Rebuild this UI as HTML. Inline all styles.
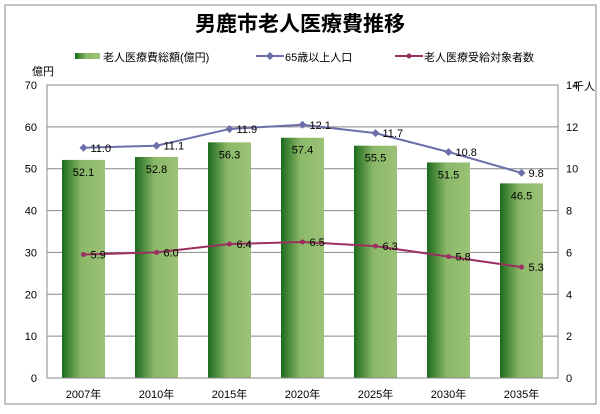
<!DOCTYPE html>
<html><head><meta charset="utf-8"><style>
body{margin:0;background:#fff;}
svg text{font-family:"Liberation Sans","Noto Sans CJK JP",sans-serif;}
</style></head><body>
<svg width="600" height="409" xmlns="http://www.w3.org/2000/svg">
<defs><linearGradient id="bg" x1="0" x2="1" y1="0" y2="0">
<stop offset="0" stop-color="#1c6a1c"/><stop offset="0.45" stop-color="#8ab868"/><stop offset="1" stop-color="#9cc277"/></linearGradient></defs>
<rect x="5" y="5" width="591" height="399" fill="#fff" stroke="#888"/>
<text x="300" y="31" text-anchor="middle" font-size="21" font-weight="bold">男鹿市老人医療費推移</text>
<g font-size="11">
<rect x="75" y="53" width="25" height="6" fill="url(#bg)"/>
<text x="103" y="61">老人医療費総額(億円)</text>
<line x1="256" y1="56" x2="284" y2="56" stroke="#6b6ea8" stroke-width="2"/><path d="M270 52 l4 4 l-4 4 l-4 -4z" fill="#6b6ea8"/>
<text x="285" y="61">65歳以上人口</text>
<line x1="395" y1="56" x2="423" y2="56" stroke="#9b3060" stroke-width="2"/><circle cx="409" cy="56" r="2.5" fill="#9b3060"/>
<text x="424" y="61">老人医療受給対象者数</text>
</g>
<text x="32" y="75" font-size="11">億円</text>
<text x="573" y="90" font-size="11">千人</text>
<g id="grid"></g><g id="bars"></g><g id="lines"></g><g id="labels"></g>
<rect x="47" y="85" width="511" height="293" fill="none" stroke="#888"/>
</svg>
<script>
const categories=["2007年","2010年","2015年","2020年","2025年","2030年","2035年"];
const costValues=[52.1,52.8,56.3,57.4,55.5,51.5,46.5];
const popValues=[11.0,11.1,11.9,12.1,11.7,10.8,9.8];
const recipValues=[5.9,6.0,6.4,6.5,6.3,5.8,5.3];
const leftTicks=[0,10,20,30,40,50,60,70];
const rightTicks=[0,2,4,6,8,10,12,14];
const NS="http://www.w3.org/2000/svg";
const L=47,R=558,T=85,B=378;
const yL=v=>B-(v/70)*(B-T), yR=v=>B-(v/14)*(B-T);
const slot=(R-L)/categories.length, xc=i=>L+slot*(i+0.5);
function mk(p,tag,a,txt){const e=document.createElementNS(NS,tag);for(const k in a)e.setAttribute(k,a[k]);if(txt!=null)e.textContent=txt;document.getElementById(p).appendChild(e);return e;}
leftTicks.forEach((t,i)=>{
 if(t>0){const g=mk('grid','line',{x1:L,x2:R,y1:yL(t),y2:yL(t),stroke:'#888'});
 
 }
 const a=mk('labels','text',{x:L-10,y:yL(t)+4,'text-anchor':'end','font-size':11},t);
 
 
 const b=mk('labels','text',{x:R+8,y:yR(rightTicks[i])+4,'font-size':11},rightTicks[i]);
 
 
});
categories.forEach((c,i)=>{
 const x=xc(i),w=43;
 const r=mk('bars','rect',{x:x-w/2,y:yL(costValues[i]),width:w,height:B-yL(costValues[i]),fill:'url(#bg)'});
 
 
 const t=mk('labels','text',{x:x,y:yL(costValues[i])+16,'text-anchor':'middle','font-size':11},costValues[i].toFixed(1));
 
 
 const xl=mk('labels','text',{x:x,y:B+20,'text-anchor':'middle','font-size':11},c);
 
 
});
function series(vals,color,name,marker){
 const pts=vals.map((v,i)=>xc(i)+','+yR(v)).join(' ');
 const pl=mk('lines','polyline',{points:pts,fill:'none',stroke:color,'stroke-width':2});
 
 
 vals.forEach((v,i)=>{
  const x=xc(i),y=yR(v);
  const m=marker==='d'?mk('lines','path',{d:`M${x} ${y-4} l4 4 l-4 4 l-4 -4z`,fill:color}):mk('lines','circle',{cx:x,cy:y,r:2.5,fill:color});
  
  
  const t=mk('labels','text',{x:x+7,y:y+4,'font-size':11},v.toFixed(1));
  
  
 });
}
series(popValues,'#6b6ea8','pop65','d');
series(recipValues,'#9b3060','recipients','c');
</script>
</body></html>
